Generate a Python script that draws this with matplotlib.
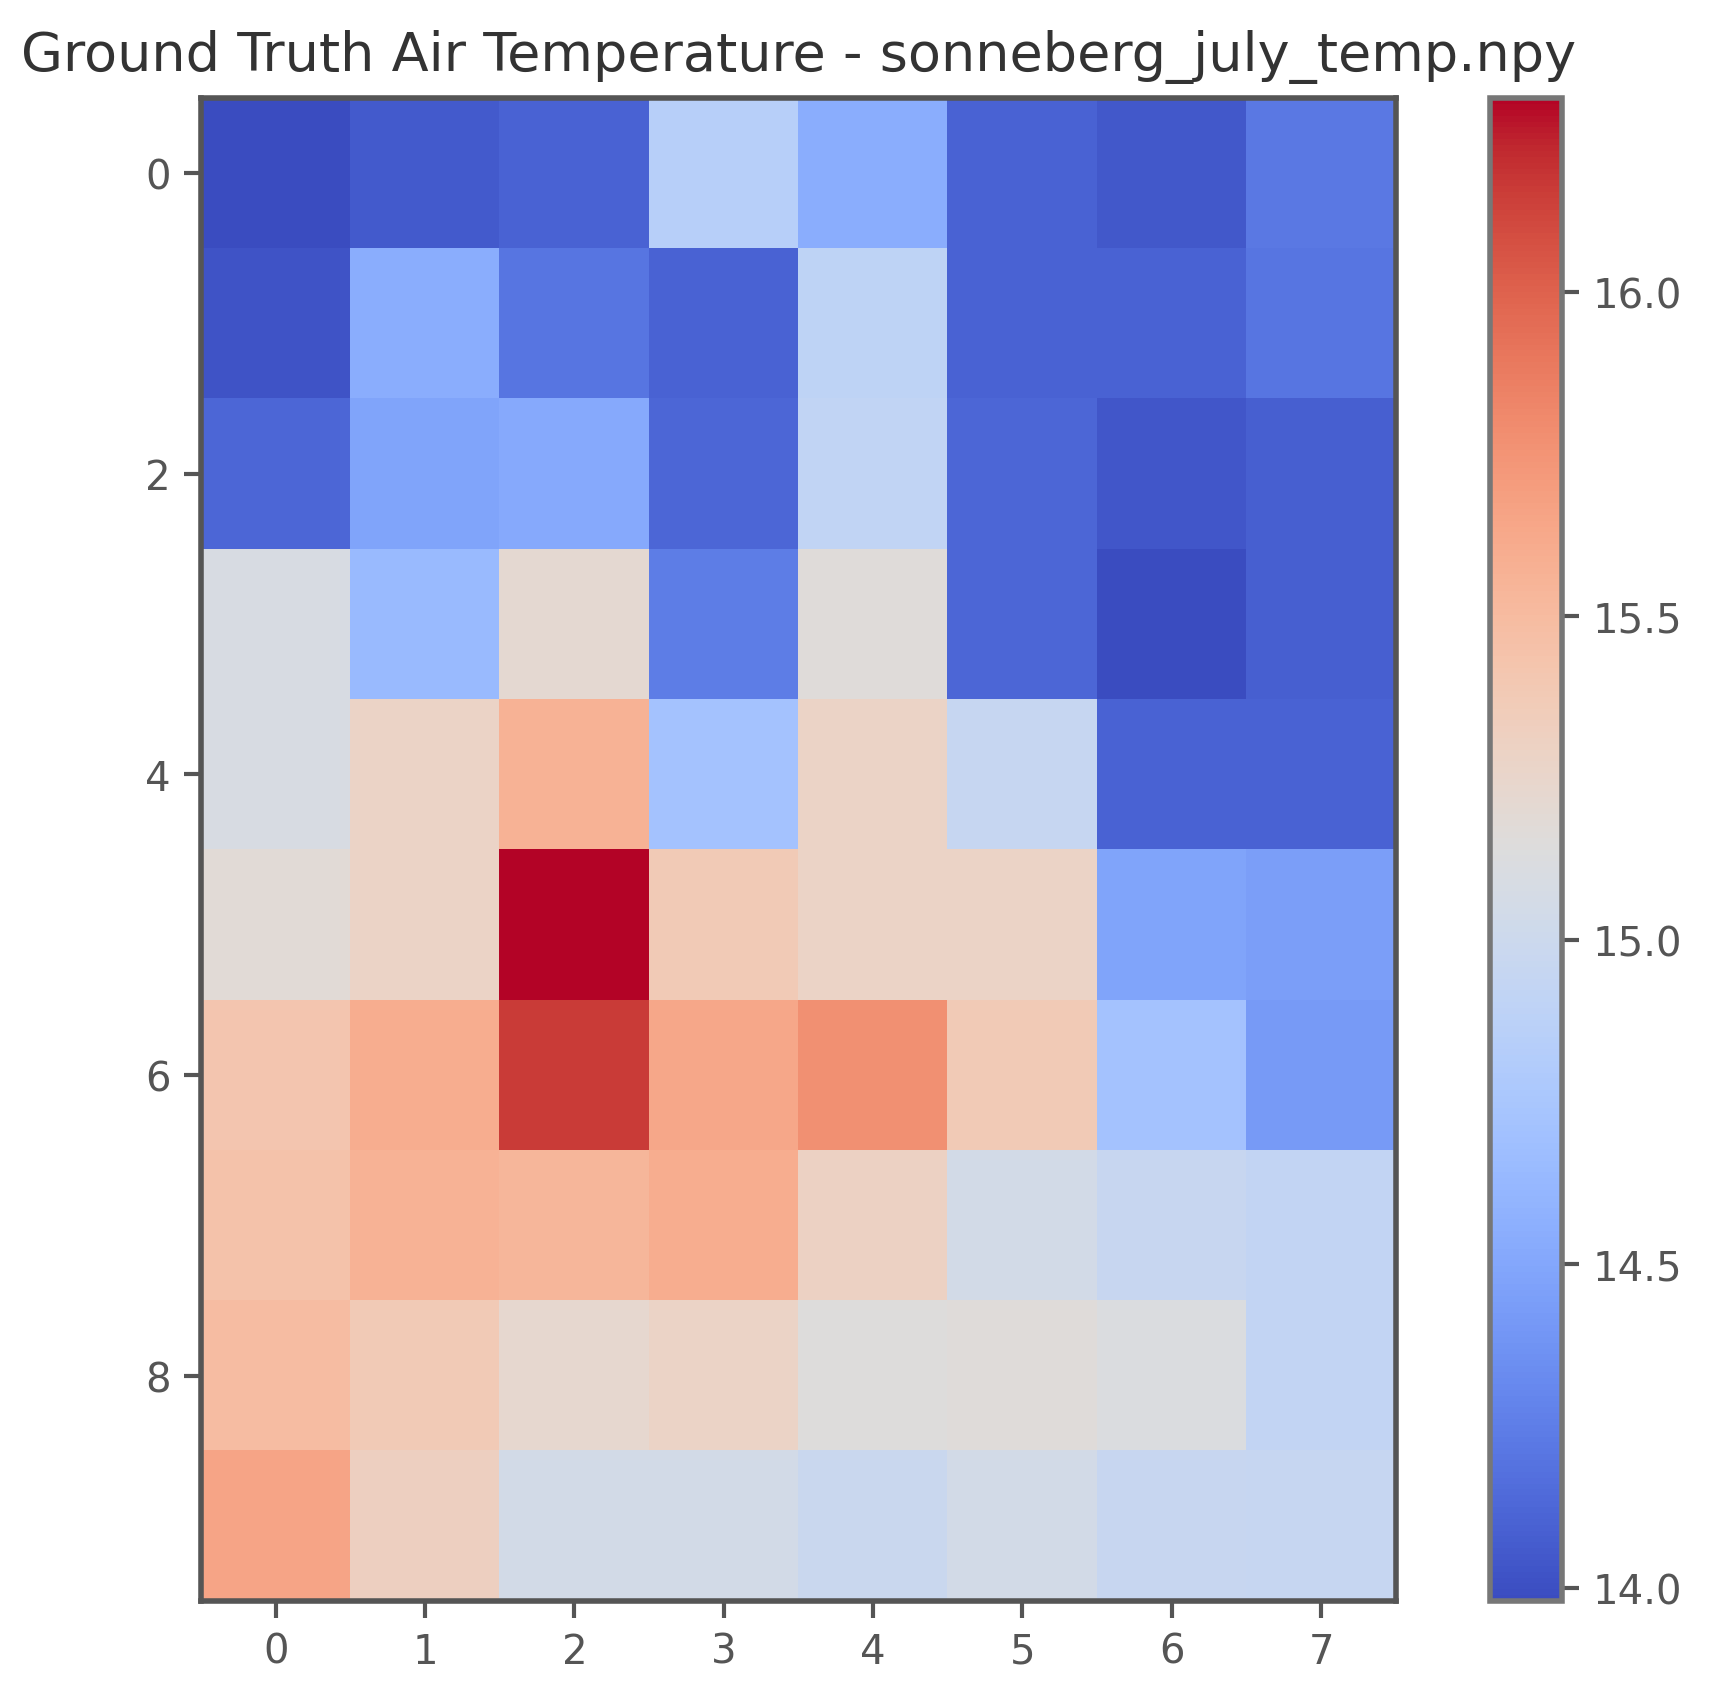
import numpy as np
import matplotlib
matplotlib.use("Agg")
import matplotlib.pyplot as plt

title = "Ground Truth Air Temperature - sonneberg_july_temp.npy"
row0 = [13.98, 14.06, 14.10, 14.85, 14.55, 14.10, 14.05, 14.22]
row1 = [14.02, 14.55, 14.20, 14.10, 14.90, 14.10, 14.10, 14.20]
row2 = [14.12, 14.48, 14.52, 14.12, 14.92, 14.12, 14.04, 14.08]
row3 = [15.09, 14.65, 15.21, 14.25, 15.16, 14.12, 13.98, 14.08]
row4 = [15.09, 15.28, 15.56, 14.72, 15.28, 14.95, 14.10, 14.10]
row5 = [15.18, 15.28, 16.30, 15.37, 15.28, 15.28, 14.48, 14.45]
row6 = [15.42, 15.60, 16.16, 15.63, 15.77, 15.37, 14.72, 14.42]
row7 = [15.44, 15.56, 15.53, 15.60, 15.30, 15.05, 14.96, 14.93]
row8 = [15.49, 15.37, 15.23, 15.28, 15.14, 15.16, 15.12, 14.93]
row9 = [15.65, 15.32, 15.05, 15.05, 14.98, 15.05, 14.96, 14.95]
cbar_ticks = [14.0, 14.5, 15.0, 15.5, 16.0]

data = np.array([row0, row1, row2, row3, row4, row5, row6, row7, row8, row9])

fig = plt.figure(figsize=(17.24, 16.99), dpi=100)
ax = fig.add_axes([0.1166, 0.0571, 0.693, 0.8846])
cax = fig.add_axes([0.864, 0.0571, 0.0423, 0.8846])

im = ax.imshow(data, cmap="coolwarm", aspect="auto", interpolation="nearest")
ax.set_title(title, fontsize=39, color="#333333", pad=20)
ax.set_xticks(range(data.shape[1]))
ax.set_yticks(range(0, data.shape[0], 2))
ax.tick_params(labelsize=29, length=12, width=3, colors="#555555", pad=10)
for s in ax.spines.values():
    s.set_linewidth(4)
    s.set_color("#555555")

cb = fig.colorbar(im, cax=cax, ticks=cbar_ticks)
cb.ax.set_yticklabels([f"{t:.1f}" for t in cbar_ticks])
cb.ax.tick_params(labelsize=29, length=12, width=3, colors="#555555", pad=10)
cb.outline.set_linewidth(4)
cb.outline.set_edgecolor("#777777")

fig.savefig("out.png", dpi=100)
